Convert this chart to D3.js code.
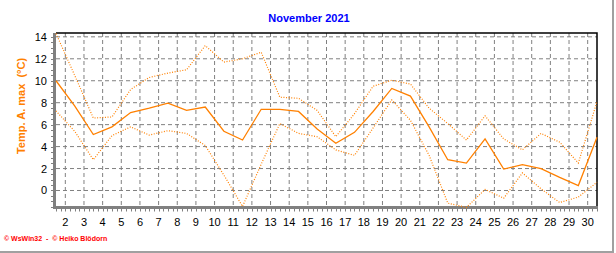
<!DOCTYPE html>
<html>
<head>
<meta charset="utf-8">
<script src="https://cdn.jsdelivr.net/npm/d3@7"></script>
<style>
  body { margin: 0; background: #fff; }
  svg { display: block; }
</style>
</head>
<body>
<div id="chart"></div>
<script>
const svgWidth = 616
const svgHeight = 253

// daily values, Nov 1 .. Nov 30
const days = d3.range(1, 31)
const tempMax = [14.3, 10.5, 6.6, 6.7, 9.2, 10.3, 10.7, 11.0, 13.2, 11.7, 12.0, 12.6, 8.5, 8.4, 7.3,
                 4.9, 7.0, 9.5, 10.05, 9.7, 7.5, 6.1, 4.6, 6.8, 4.7, 3.7, 5.2, 4.4, 2.5, 8.1]
const tempMid = [10.0, 7.7, 5.1, 5.8, 7.1, 7.5, 7.95, 7.3, 7.6, 5.4, 4.6, 7.4, 7.4, 7.2, 5.6,
                 4.3, 5.3, 7.2, 9.3, 8.6, 5.8, 2.8, 2.5, 4.7, 1.95, 2.35, 2.0, 1.2, 0.45, 4.85]
const tempMin = [7.25, 5.4, 2.8, 5.0, 5.8, 5.05, 5.45, 5.2, 4.1, 1.4, -1.45, 2.4, 6.1, 5.2, 4.9,
                 3.7, 3.2, 5.7, 8.25, 6.4, 3.2, -1.15, -1.55, 0.1, -0.7, 1.6, 0.15, -1.1, -0.6, 0.75]
const xTicks = d3.range(2, 31)
const yTicks = [0, 2, 4, 6, 8, 10, 12, 14]

const orange = "#ff8000"
const plot = { left: 56, right: 597, top: 33, bottom: 207.5 }

const svg = d3.select("#chart")
	.append("svg")
	.attr("width", svgWidth)
	.attr("height", svgHeight)
	.style("font-family", "Arial, 'Liberation Sans', sans-serif")

// x: a day's value sits at its midday, labels mark the start of the day
const x = d3.scaleLinear().domain([1.5, 30.5]).range([plot.left, plot.right])
const y = d3.scaleLinear().domain([-1.55, 14.35]).range([plot.bottom, plot.top])

// outer frame
svg.append("line").attr("x1", 613).attr("x2", 613).attr("y1", 0).attr("y2", 253)
	.attr("stroke", "#a0a0a0").attr("stroke-width", 2)
svg.append("line").attr("x1", 0).attr("x2", 614).attr("y1", 252).attr("y2", 252)
	.attr("stroke", "#a0a0a0").attr("stroke-width", 2)

// grid
svg.append("g")
	.selectAll("line")
	.data(xTicks)
	.enter().append("line")
	  .attr("x1", d => x(d)).attr("x2", d => x(d))
	  .attr("y1", plot.top).attr("y2", plot.bottom)
	  .attr("stroke", "#808080").attr("stroke-dasharray", "4,3")
svg.append("g")
	.selectAll("line")
	.data(yTicks)
	.enter().append("line")
	  .attr("x1", plot.left).attr("x2", plot.right)
	  .attr("y1", d => y(d)).attr("y2", d => y(d))
	  .attr("stroke", "#808080").attr("stroke-dasharray", "4,3")

// minor ticks
svg.append("g")
	.selectAll("line")
	.data(d3.range(1.5, 30.51, 0.25))
	.enter().append("line")
	  .attr("x1", d => Math.round(x(d)) + 0.5).attr("x2", d => Math.round(x(d)) + 0.5)
	  .attr("y1", plot.bottom).attr("y2", plot.bottom + 4)
	  .attr("stroke", "#808080")
svg.append("g")
	.selectAll("line")
	.data(d3.range(-1.5, 14.3, 0.5))
	.enter().append("line")
	  .attr("x1", plot.left - 5).attr("x2", plot.left)
	  .attr("y1", d => Math.round(y(d)) + 0.5).attr("y2", d => Math.round(y(d)) + 0.5)
	  .attr("stroke", "#808080")

// plot frame: black top/right, gray thick left/bottom
svg.append("path")
	.attr("d", `M${plot.left},${plot.top}H${plot.right}V${plot.bottom}`)
	.attr("fill", "none").attr("stroke", "#000").attr("stroke-width", 1.5)
svg.append("path")
	.attr("d", `M${plot.left - 1.5},${plot.top}V${plot.bottom}H${plot.right + 1}`)
	.attr("fill", "none").attr("stroke", "#808080").attr("stroke-width", 3)

// tick labels
svg.append("g")
	.selectAll("text")
	.data(xTicks)
	.enter().append("text")
	  .attr("x", d => x(d))
	  .attr("y", 226)
	  .attr("text-anchor", "middle")
	  .attr("font-size", 11)
	  .text(d => d)
svg.append("g")
	.selectAll("text")
	.data(yTicks)
	.enter().append("text")
	  .attr("x", 47)
	  .attr("y", d => y(d) + 4)
	  .attr("text-anchor", "end")
	  .attr("font-size", 11)
	  .text(d => d)

// series
const line = d3.line()
	.x((d, i) => x(days[i] + 0.5))
	.y(d => y(d))

svg.append("path").datum(tempMax)
	.attr("d", line)
	.attr("fill", "none").attr("stroke", orange)
	.attr("stroke-width", 1.2).attr("stroke-dasharray", "1,1.6")
svg.append("path").datum(tempMin)
	.attr("d", line)
	.attr("fill", "none").attr("stroke", orange)
	.attr("stroke-width", 1.2).attr("stroke-dasharray", "1,1.6")
svg.append("path").datum(tempMid)
	.attr("d", line)
	.attr("fill", "none").attr("stroke", orange)
	.attr("stroke-width", 1.3)

// titles
svg.append("text")
	.attr("x", 309).attr("y", 22)
	.attr("text-anchor", "middle")
	.attr("font-size", 11).attr("font-weight", "bold")
	.attr("fill", "#0000ff")
	.text("November 2021")

svg.append("text")
	.attr("transform", "translate(25,106) rotate(-90)")
	.attr("text-anchor", "middle")
	.attr("font-size", 11).attr("font-weight", "bold")
	.attr("fill", orange)
	.attr("xml:space", "preserve")
	.text("Temp. A. max  (°C)")

svg.append("text")
	.attr("x", 4).attr("y", 241)
	.attr("font-size", 7).attr("font-weight", "bold")
	.attr("fill", "#ff0000")
	.attr("xml:space", "preserve")
	.text("© WsWin32  -  © Heiko Blödorn")
</script>
</body>
</html>
